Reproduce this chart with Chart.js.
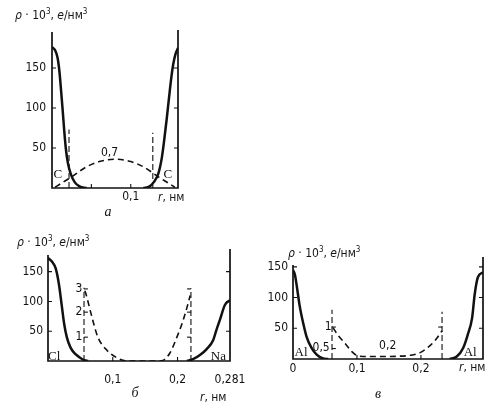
<!DOCTYPE html>
<html>
<head>
<meta charset="utf-8">
<script src="https://cdn.jsdelivr.net/npm/chart.js@4.4.1/dist/chart.umd.min.js"></script>
<style>
    body { margin: 0; background: #fff; width: 499px; height: 413px; position: relative; overflow: hidden; }
    canvas { position: absolute; left: 0; top: 0; }
    .txt { position: absolute; line-height: 1; white-space: nowrap; color: #151515;
           font: 12px 'DejaVu Sans Condensed', 'Liberation Sans', sans-serif;
           transform: translate(0, -50%); }
    .txt sup { font-size: 8px; vertical-align: 5px; line-height: 0; }
    .cap { font: italic 14px 'Liberation Serif', 'DejaVu Serif', serif; transform: translate(-50%, -50%); }
</style>
</head>
<body>
<canvas id="chartA" width="499" height="413"></canvas>
<canvas id="chartB" width="499" height="413"></canvas>
<canvas id="chartC" width="499" height="413"></canvas>

<div class="txt" style="left:15px;top:15px"><i>ρ</i> · 10<sup>3</sup>, <i>e</i>/нм<sup>3</sup></div>
<div class="txt" style="left:158px;top:197px"><i>r</i>, нм</div>
<div class="txt cap" style="left:108px;top:212px">а</div>

<div class="txt" style="left:17px;top:242px"><i>ρ</i> · 10<sup>3</sup>, <i>e</i>/нм<sup>3</sup></div>
<div class="txt" style="left:200px;top:397px"><i>r</i>, нм</div>
<div class="txt cap" style="left:135px;top:393px">б</div>

<div class="txt" style="left:288px;top:253px"><i>ρ</i> · 10<sup>3</sup>, <i>e</i>/нм<sup>3</sup></div>
<div class="txt" style="left:459px;top:367px"><i>r</i>, нм</div>
<div class="txt cap" style="left:378px;top:394px">в</div>

<script>
const FONT = "'DejaVu Sans Condensed', 'Liberation Sans', sans-serif";
const SERIF = "'Liberation Serif', 'DejaVu Serif', serif";
const INK = '#111';

// --- panel а: C–C (diamond) ---
const aTicksY = [50, 100, 150];
const aTicksX = [0.05, 0.1];
const aTickLabelsX = ['', '0,1'];
const aLeftR = [0, 0.004, 0.007, 0.0095, 0.0115, 0.0135, 0.0155, 0.0175, 0.020, 0.024, 0.029, 0.035, 0.044];
const aLeftRho = [176, 172, 163, 145, 122, 98, 72, 50, 32, 17, 7, 2, 0];
const aRightR = [0.116, 0.124, 0.129, 0.135, 0.1395, 0.1425, 0.1455, 0.1485, 0.1515, 0.154, 0.157, 0.16];
const aRightRho = [0, 2, 7, 18, 38, 60, 85, 112, 138, 155, 168, 175];
const aBondR = [0.004, 0.012, 0.025, 0.043, 0.06, 0.08, 0.1, 0.117, 0.135, 0.148, 0.156];
const aBondRho = [1, 6, 14, 26, 33, 36, 33, 26, 14, 6, 1];
const aCutR = [0.0216, 0.128];
const aCutRho = [73, 69];

// --- panel б: Na–Cl ---
const bTicksY = [50, 100, 150];
const bTicksX = [0.1, 0.2, 0.281];
const bTickLabelsX = ['0,1', '0,2', '0,281'];
const bClR = [0, 0.006, 0.012, 0.017, 0.021, 0.025, 0.029, 0.035, 0.043, 0.05, 0.056, 0.062];
const bClRho = [173, 167, 155, 128, 95, 62, 40, 22, 11, 5, 1.5, 0];
const bNaR = [0.2145, 0.224, 0.2346, 0.245, 0.255, 0.260, 0.2654, 0.2731, 0.281];
const bNaRho = [0, 3, 10, 20, 35, 52, 69, 94, 102];
const bGapR = [0.057, 0.060, 0.068, 0.077, 0.091, 0.107, 0.122, 0.17, 0.1775, 0.188, 0.199, 0.207, 0.2146, 0.2195];
const bGapRho = [118, 107, 73, 40, 18, 5, 0, 0, 1, 13, 40, 63, 90, 110];
const bCutR = [0.0556, 0.2207];
const bCutRho = [123, 122];
const bInsetRho = [40, 82, 121];
const bInsetLabels = ['1', '2', '3'];

// --- panel в: Al–Al ---
const cTicksY = [50, 100, 150];
const cTicksX = [0, 0.1, 0.2];
const cTickLabelsX = ['0', '0,1', '0,2'];
const cLeftR = [0, 0.003, 0.006, 0.0105, 0.016, 0.021, 0.029, 0.037, 0.047, 0.055];
const cLeftRho = [145, 137, 118, 86, 58, 37, 18, 7, 1, 0];
const cRightR = [0.245, 0.256, 0.266, 0.273, 0.280, 0.284, 0.289, 0.297];
const cRightRho = [0, 4, 18, 39, 67, 105, 133, 141];
const cGapR = [0.0625, 0.070, 0.081, 0.092, 0.1016, 0.115, 0.14, 0.165, 0.183, 0.198, 0.211, 0.222, 0.233];
const cGapRho = [51, 39, 26, 12, 5, 4, 4, 4.5, 6, 10, 19, 30, 46];
const cCutR = [0.061, 0.233];
const cCutRho = [80, 77];
const cInsetLeftRho = [52, 17];
const cInsetRightRho = [52];

function pts(xs, ys) {
    return xs.map((x, i) => ({ x: x, y: ys[i] }));
}

function solid(xs, ys) {
    return { data: pts(xs, ys), borderColor: INK, borderWidth: 2.5, cubicInterpolationMode: 'monotone' };
}

function dashed(xs, ys) {
    return { data: pts(xs, ys), borderColor: INK, borderWidth: 1.6, borderDash: [6, 4], cubicInterpolationMode: 'monotone' };
}

// a thin dashed vertical from the axis up to the given height
function cut(r, rho) {
    return { data: [{ x: r, y: 0 }, { x: r, y: rho }], borderColor: INK, borderWidth: 1.1, borderDash: [6, 3] };
}

// little marks of the inset scale on a cut line
function insetTicks(r, rhos, dir, len) {
    return rhos.map(v => ({ data: [{ x: r, y: v }, { x: r + dir * len, y: v }], borderColor: INK, borderWidth: 1.1 }));
}

// axes frame with inward ticks, and the notes written on the plot
const framePlugin = {
    id: 'frame',
    afterDatasetsDraw(chart, args, opts) {
        const { ctx, chartArea: a } = chart;
        const x = chart.scales.x, y = chart.scales.y;
        ctx.save();
        ctx.strokeStyle = INK;
        ctx.lineWidth = 1.7;
        ctx.beginPath();
        ctx.moveTo(a.left, y.getPixelForValue(opts.leftTop));
        ctx.lineTo(a.left, a.bottom);
        ctx.lineTo(a.right, a.bottom);
        ctx.lineTo(a.right, a.top);
        ctx.stroke();

        ctx.lineWidth = 1.1;
        ctx.beginPath();
        y.ticks.forEach(t => {
            const py = y.getPixelForValue(t.value);
            ctx.moveTo(a.left, py); ctx.lineTo(a.left + 4, py);
            ctx.moveTo(a.right, py); ctx.lineTo(a.right - 4, py);
        });
        x.ticks.forEach(t => {
            if (t.value <= x.min || t.value >= x.max) return;
            const px = x.getPixelForValue(t.value);
            ctx.moveTo(px, a.bottom); ctx.lineTo(px, a.bottom - 4);
        });
        ctx.stroke();

        ctx.fillStyle = INK;
        ctx.textBaseline = 'middle';
        (opts.notes || []).forEach(n => {
            ctx.font = n.serif ? '13px ' + SERIF : '12px ' + FONT;
            ctx.textAlign = n.align || 'center';
            ctx.fillText(n.text, x.getPixelForValue(n.r), y.getPixelForValue(n.rho));
        });
        ctx.restore();
    }
};

function makePanel(id, box, xMax, yMax, ticksX, labelsX, ticksY, xPad, yPad, datasets, frame) {
    const ctx = document.getElementById(id).getContext('2d');
    return new Chart(ctx, {
        type: 'scatter',
        data: { datasets: datasets.map(d => Object.assign({ showLine: true, pointRadius: 0, fill: false }, d)) },
        options: {
            responsive: false,
            animation: false,
            layout: { padding: { left: box.left - 30, right: 499 - box.right, top: box.top, bottom: 413 - box.bottom - 24 } },
            plugins: { legend: { display: false }, tooltip: { enabled: false }, frame: frame },
            scales: {
                x: {
                    type: 'linear', min: 0, max: xMax,
                    grid: { display: false, drawTicks: false },
                    border: { display: false },
                    afterBuildTicks: s => { s.ticks = ticksX.map(v => ({ value: v })); },
                    afterFit: s => { s.height = 24; },
                    ticks: {
                        autoSkip: false, maxRotation: 0, padding: xPad, color: INK,
                        font: { family: FONT, size: 12 },
                        callback: (v, i) => labelsX[i]
                    }
                },
                y: {
                    type: 'linear', min: 0, max: yMax,
                    grid: { display: false, drawTicks: false },
                    border: { display: false },
                    afterBuildTicks: s => { s.ticks = ticksY.map(v => ({ value: v })); },
                    afterFit: s => { s.width = 30; },
                    ticks: { padding: yPad, color: INK, font: { family: FONT, size: 12 } }
                }
            }
        },
        plugins: [framePlugin]
    });
}

makePanel('chartA', { left: 52, right: 178, top: 30, bottom: 188 }, 0.16, 197.5,
    aTicksX, aTickLabelsX, aTicksY, 2, 6,
    [
        solid(aLeftR, aLeftRho),
        solid(aRightR, aRightRho),
        dashed(aBondR, aBondRho),
        cut(aCutR[0], aCutRho[0]),
        cut(aCutR[1], aCutRho[1])
    ],
    {
        leftTop: 195,
        notes: [
            { text: 'C', r: 0.0075, rho: 17, serif: true },
            { text: 'C', r: 0.147, rho: 17, serif: true },
            { text: '0,7', r: 0.073, rho: 44 }
        ]
    });

makePanel('chartB', { left: 48, right: 230, top: 249, bottom: 361 }, 0.281, 188,
    bTicksX, bTickLabelsX, bTicksY, 12, 5,
    [
        solid(bClR, bClRho),
        solid(bNaR, bNaRho),
        dashed(bGapR, bGapRho),
        cut(bCutR[0], bCutRho[0]),
        cut(bCutR[1], bCutRho[1])
    ].concat(insetTicks(bCutR[0], bInsetRho, 1, 0.006), insetTicks(bCutR[1], bInsetRho, -1, 0.006)),
    {
        leftTop: 178,
        notes: [
            { text: 'Cl', r: 0.0095, rho: 8, serif: true },
            { text: 'Na', r: 0.263, rho: 7, serif: true }
        ].concat(bInsetRho.map((v, i) => ({ text: bInsetLabels[i], r: 0.0478, rho: v })))
    });

makePanel('chartC', { left: 293, right: 483, top: 257, bottom: 359 }, 0.297, 166,
    cTicksX, cTickLabelsX, cTicksY, 3, 5,
    [
        solid(cLeftR, cLeftRho),
        solid(cRightR, cRightRho),
        dashed(cGapR, cGapRho),
        cut(cCutR[0], cCutRho[0]),
        cut(cCutR[1], cCutRho[1])
    ].concat(insetTicks(cCutR[0], cInsetLeftRho, 1, 0.006), insetTicks(cCutR[1], cInsetRightRho, -1, 0.006)),
    {
        leftTop: 153,
        notes: [
            { text: 'Al', r: 0.0125, rho: 10, serif: true },
            { text: 'Al', r: 0.277, rho: 10, serif: true },
            { text: '0,5', r: 0.044, rho: 18 },
            { text: '1', r: 0.055, rho: 52 },
            { text: '0,2', r: 0.148, rho: 21 }
        ]
    });
</script>
</body>
</html>
